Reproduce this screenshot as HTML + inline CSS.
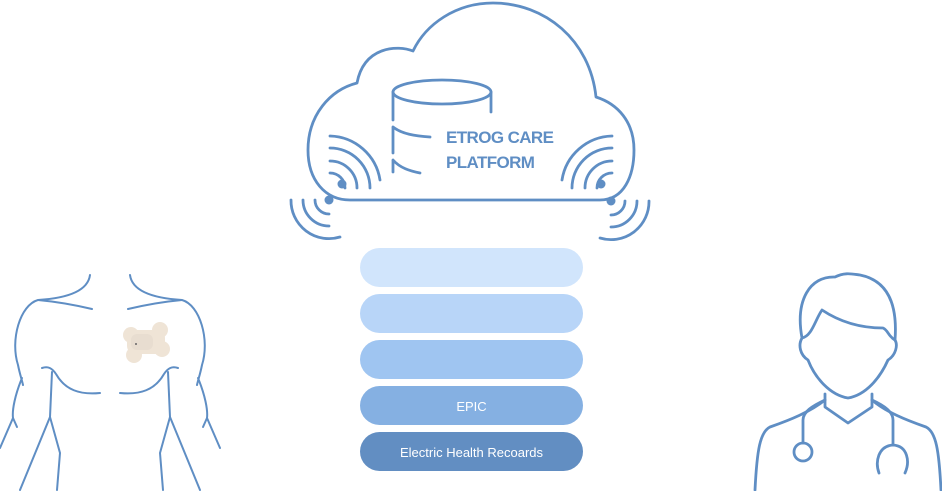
<!DOCTYPE html>
<html><head><style>
html,body{margin:0;padding:0;background:#fff;}
svg{display:block;}
</style></head><body>
<svg width="942" height="491" viewBox="0 0 942 491" xmlns="http://www.w3.org/2000/svg">
<g fill="none" stroke="#5f8ec4" stroke-width="2.8" stroke-linecap="round" stroke-linejoin="round">
  <path d="M350 200 L600 200 C624 200 634 176 634 150 C634 122 618 104 596 97 C590 40 545 3 493 3 C456 3 426 24 413 51 C398 45 364 46 357 83 C330 90 308 115 308 150 C308 180 325 200 350 200 Z"/>
  <ellipse cx="442" cy="92" rx="49" ry="12"/>
  <path d="M393 92 L393 120 M393 128 L393 153 M393 161 L393 172 M491 92 L491 112"/>
  <path d="M393 127 C402 134 415 136 430 137 M393 160 C400 168 410 171 420 173"/>
  <path d="M330 173 A15 15 0 0 1 345 188 M330 161 A27 27 0 0 1 357 188 M330 148 A40 40 0 0 1 370 188 M330 136 A52 52 0 0 1 380 180"/>
  <path d="M315 200 A14 14 0 0 0 329 214 M303 200 A26 26 0 0 0 329 226 M291 200 A38 38 0 0 0 340 237"/>
  <g transform="translate(942,0) scale(-1,1)">
    <path d="M330 173 A15 15 0 0 1 345 188 M330 161 A27 27 0 0 1 357 188 M330 148 A40 40 0 0 1 370 188 M330 136 A52 52 0 0 1 380 180"/>
    <path d="M317 201 A14 14 0 0 0 331 215 M305 201 A26 26 0 0 0 331 227 M293 201 A38 38 0 0 0 342 238"/>
  </g>
</g>
<g fill="#5f8ec4">
  <circle cx="342" cy="184" r="4.5"/>
  <circle cx="329" cy="200" r="4.5"/>
  <circle cx="601" cy="184" r="4.5"/>
  <circle cx="611" cy="201" r="4.5"/>
</g>
<text x="446" y="143" font-family="Liberation Sans, sans-serif" font-weight="bold" font-size="17" letter-spacing="-0.6" fill="#5f8ec4">ETROG CARE</text>
<text x="446" y="168" font-family="Liberation Sans, sans-serif" font-weight="bold" font-size="17" letter-spacing="-0.6" fill="#5f8ec4">PLATFORM</text>

<rect x="360" y="248" width="223" height="39" rx="19.5" fill="#d1e5fc"/>
<rect x="360" y="294" width="223" height="39" rx="19.5" fill="#b8d5f8"/>
<rect x="360" y="340" width="223" height="39" rx="19.5" fill="#9fc5f1"/>
<rect x="360" y="386" width="223" height="39" rx="19.5" fill="#85b0e2"/>
<rect x="360" y="432" width="223" height="39" rx="19.5" fill="#628ec2"/>
<text x="471.5" y="411" text-anchor="middle" font-family="Liberation Sans, sans-serif" font-size="13" fill="#fff">EPIC</text>
<text x="471.5" y="457" text-anchor="middle" font-family="Liberation Sans, sans-serif" font-size="13" fill="#fff">Electric Health Recoards</text>

<g fill="none" stroke="#5f8ec4" stroke-width="2" stroke-linecap="round">
  <g id="half">
    <path d="M90 275 C88 290 70 298 38 300 C60 302 75 305 92 309"/>
    <path d="M38 300 C20 305 10 340 18 365 C20 375 22 380 23 385"/>
    <path d="M22 378 C15 395 12 410 13 418 L0 448"/>
    <path d="M13 418 L17 427"/>
    <path d="M42 368 C48 366 52 368 56 374 C65 390 80 395 100 393"/>
    <path d="M52 372 L50 417 L20 490"/>
    <path d="M50 417 L60 453 L57 490"/>
  </g>
  <use href="#half" transform="translate(220,0) scale(-1,1)"/>
</g>
<g fill="#efe4d6">
  <circle cx="131" cy="335" r="8"/>
  <circle cx="160" cy="330" r="8"/>
  <circle cx="162" cy="349" r="8"/>
  <circle cx="134" cy="355" r="8"/>
  <rect x="127" y="330" width="38" height="24" rx="8"/>
</g>
<rect x="131" y="334" width="22" height="16" rx="6" fill="#e8ddd0"/>
<circle cx="136" cy="344" r="1" fill="#666"/>

<g fill="none" stroke="#5f8ec4" stroke-width="2.8" stroke-linecap="round" stroke-linejoin="round">
  <path d="M802 338 C795 300 810 276 835 277 C845 272 852 274 860 275 C885 280 898 300 895 340"/>
  <path d="M802 338 C812 336 815 320 822 310 C840 322 860 328 883 328 C888 330 888 336 895 340"/>
  <path d="M802 338 C798 345 800 355 808 360 C815 378 830 395 848 398 C866 395 880 378 888 360 C896 355 898 345 895 340"/>
  <path d="M825 394 L825 407 L848 423 L872 407 L872 394"/>
  <path d="M825 400 C810 412 790 420 770 427 C760 432 757 450 755 490"/>
  <path d="M872 400 C886 412 906 420 926 427 C936 432 939 450 941 490"/>
  <path d="M825 400 C812 406 803 412 803 420 L803 443"/>
  <circle cx="803" cy="452" r="9"/>
  <path d="M872 400 C885 406 893 412 893 420 L893 445"/>
  <path d="M879 473 C875 462 878 446 893 445 C908 446 910 462 905 473"/>
</g>
</svg>
</body></html>
